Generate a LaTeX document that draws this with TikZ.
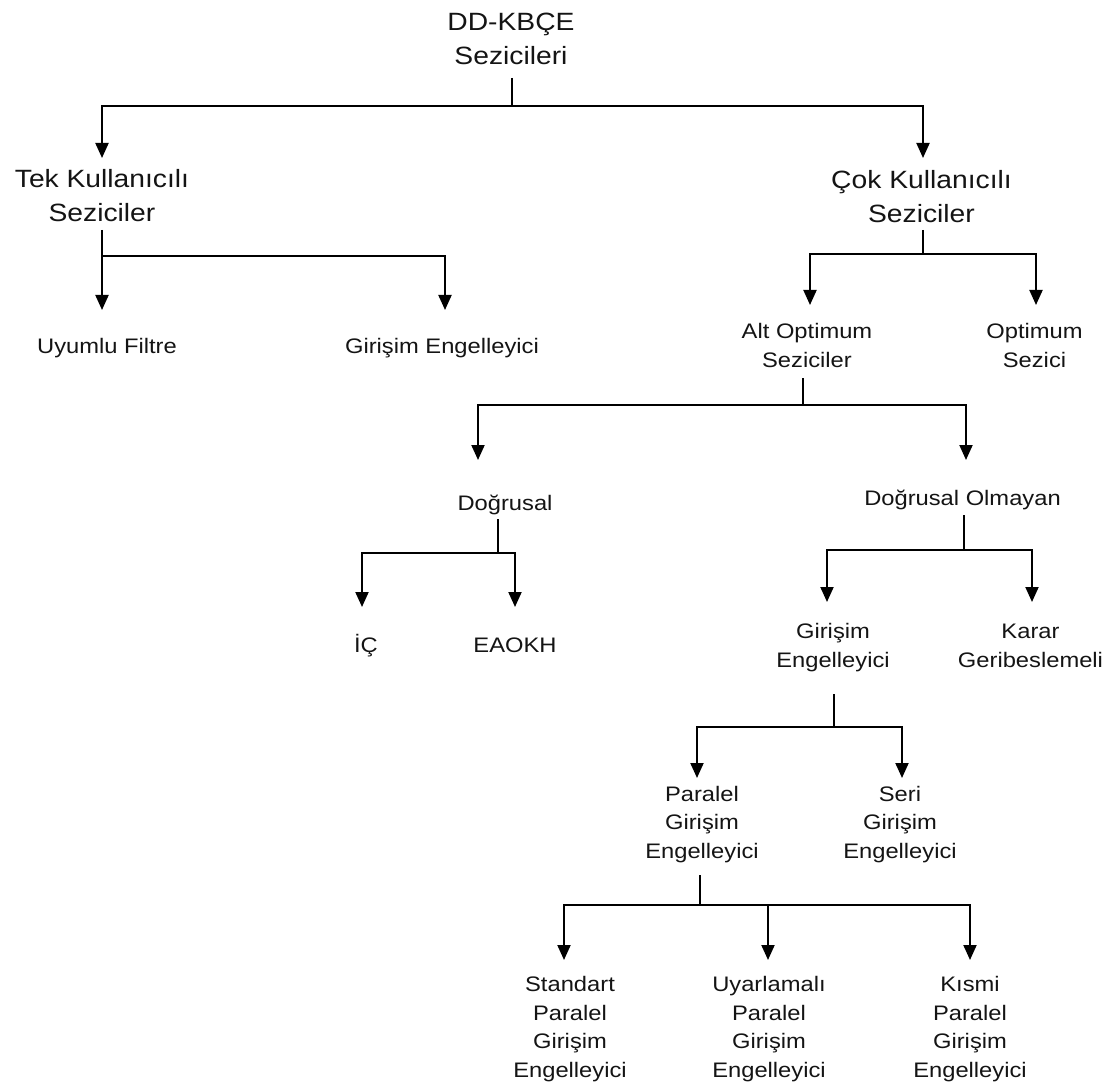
\documentclass[tikz,border=0pt]{standalone}
\usepackage{fontspec}
\newfontfamily\diagfont{Liberation Sans}[FakeStretch=1.13]
\usetikzlibrary{arrows.meta}
\definecolor{txt}{RGB}{20,20,20}
\begin{document}
\begin{tikzpicture}[x=1pt,y=-1pt,
  bigtxt/.style={font=\diagfont\fontsize{25}{34}\selectfont, align=center, inner sep=0pt, anchor=base, text=txt},
  smalltxt/.style={font=\diagfont\fontsize{21}{28.5}\selectfont, align=center, inner sep=0pt, anchor=base, text=txt},
  link/.style={line width=2pt, draw=black},
  arr/.style={link, -{Triangle[width=13pt,length=15pt]}}]
\fill[white] (0,0) rectangle (1112,1086);
\useasboundingbox (0,0) rectangle (1112,1086);

% nodes (anchored at baseline of last line)
\node[bigtxt] (root) at (511,65) {DD-KBÇE\\Sezicileri};
\node[bigtxt] (tek) at (102,222) {Tek Kullanıcılı\\Seziciler};
\node[bigtxt] (cok) at (921.5,223) {Çok Kullanıcılı\\Seziciler};
\node[smalltxt] (uyu) at (107,353) {Uyumlu Filtre};
\node[smalltxt] (gir1) at (442,353) {Girişim Engelleyici};
\node[smalltxt] (alt) at (807,367) {Alt Optimum\\Seziciler};
\node[smalltxt] (opt) at (1034.5,367) {Optimum\\Sezici};
\node[smalltxt] (dog) at (505,510) {Doğrusal};
\node[smalltxt] (dogo) at (962.5,505) {Doğrusal Olmayan};
\node[smalltxt] (ic) at (366,652) {İÇ};
\node[smalltxt] (eao) at (515,652) {EAOKH};
\node[smalltxt] (gir2) at (833,667) {Girişim\\Engelleyici};
\node[smalltxt] (kar) at (1030.5,667) {Karar\\Geribeslemeli};
\node[smalltxt] (par) at (702,858) {Paralel\\Girişim\\Engelleyici};
\node[smalltxt] (seri) at (900,858) {Seri\\Girişim\\Engelleyici};
\node[smalltxt] (std) at (570,1077) {Standart\\Paralel\\Girişim\\Engelleyici};
\node[smalltxt] (uya) at (769,1077) {Uyarlamalı\\Paralel\\Girişim\\Engelleyici};
\node[smalltxt] (kis) at (970,1077) {Kısmi\\Paralel\\Girişim\\Engelleyici};

% connector points
\coordinate (root-out) at (512,78);   \coordinate (root-j) at (512,106);
\coordinate (tek-in) at (102,158);    \coordinate (cok-in) at (923,158);
\coordinate (tek-out) at (102,230);   \coordinate (tek-j) at (102,256);
\coordinate (uyu-in) at (102,310);    \coordinate (gir1-in) at (445,310);
\coordinate (cok-out) at (923,230);   \coordinate (cok-j) at (923,254);
\coordinate (alt-in) at (810,305);    \coordinate (opt-in) at (1036,305);
\coordinate (alt-out) at (803,378);   \coordinate (alt-j) at (803,405);
\coordinate (dog-in) at (478,460);    \coordinate (dogo-in) at (966,460);
\coordinate (dog-out) at (498,519);   \coordinate (dog-j) at (498,553);
\coordinate (ic-in) at (362,607);     \coordinate (eao-in) at (515,607);
\coordinate (dogo-out) at (964,515);  \coordinate (dogo-j) at (964,550);
\coordinate (gir2-in) at (827,602);   \coordinate (kar-in) at (1032,602);
\coordinate (gir2-out) at (834,694);  \coordinate (gir2-j) at (834,727);
\coordinate (par-in) at (697,778);    \coordinate (seri-in) at (902,778);
\coordinate (par-out) at (700,875);   \coordinate (par-j) at (700,905);
\coordinate (std-in) at (564,960);    \coordinate (uya-in) at (768,960);
\coordinate (kis-in) at (970,960);

% connectors
\draw[link] (root-out) -- (root-j);
\draw[arr] (root-j) -| (tek-in);
\draw[arr] (root-j) -| (cok-in);

\draw[link] (tek-out) -- (tek-j);
\draw[arr] (tek-j) -| (uyu-in);
\draw[arr] (tek-j) -| (gir1-in);

\draw[link] (cok-out) -- (cok-j);
\draw[arr] (cok-j) -| (alt-in);
\draw[arr] (cok-j) -| (opt-in);

\draw[link] (alt-out) -- (alt-j);
\draw[arr] (alt-j) -| (dog-in);
\draw[arr] (alt-j) -| (dogo-in);

\draw[link] (dog-out) -- (dog-j);
\draw[arr] (dog-j) -| (ic-in);
\draw[arr] (dog-j) -| (eao-in);

\draw[link] (dogo-out) -- (dogo-j);
\draw[arr] (dogo-j) -| (gir2-in);
\draw[arr] (dogo-j) -| (kar-in);

\draw[link] (gir2-out) -- (gir2-j);
\draw[arr] (gir2-j) -| (par-in);
\draw[arr] (gir2-j) -| (seri-in);

\draw[link] (par-out) -- (par-j);
\draw[arr] (par-j) -| (std-in);
\draw[arr] (par-j) -| (uya-in);
\draw[arr] (par-j) -| (kis-in);
\end{tikzpicture}
\end{document}
